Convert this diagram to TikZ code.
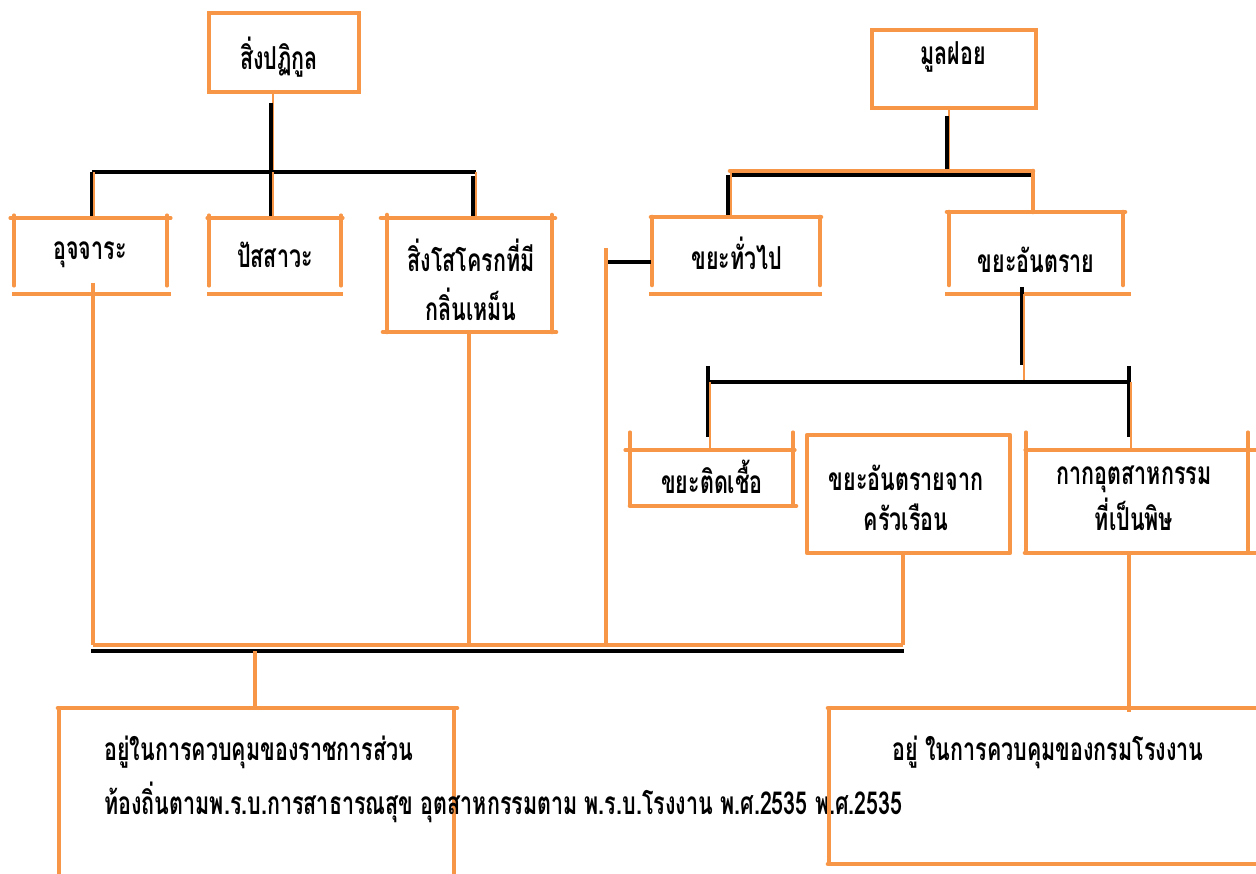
\documentclass[tikz,border=0pt]{standalone}
\usepackage{fontspec}
\newfontfamily\thaifont[Script=Thai,FakeStretch=0.68]{Loma}
\usetikzlibrary{positioning}
\definecolor{theme}{RGB}{247,150,70}
\tikzset{
  frame/.style={draw=theme, line width=1.8pt, line cap=round},
  heavy/.style={draw=theme, line width=2.6pt, line cap=round, line join=round},
  feed/.style={draw=theme, line width=1.4pt},
  link/.style={draw=black, line width=2pt},
  label/.style={font=\thaifont\bfseries\fontsize{18}{21}\selectfont, inner sep=0pt, align=center},
}

\begin{document}
\begin{tikzpicture}[x=0.02cm,y=-0.02cm]
    \useasboundingbox (0,0) rectangle (1256,874);
    % left tree
    \draw[frame] (209,13) rectangle (359,92);
    \node[label] (sewage) at (279,57) {สิ่งปฏิกูล};
    \coordinate (sewagehub) at (273,172);
    \draw[feed] (sewagehub |- 0,92) -- (sewagehub);
    \draw[link] (271,103) -- (271,172);
    \draw[link] (92,172) -- (476,172);
    \draw[link] (92,172) -- (92,218);
    \draw[feed] (94,172) -- (94,218);
    \draw[link] (271,172) -- (271,218);
    \draw[feed] (273,172) -- (273,218);
    \draw[link] (473,176) -- (473,218);
    \draw[feed] (476,172) -- (476,218);

    \draw[frame] (10,218) -- (171,218);
    \draw[frame] (14,215) -- (14,286);
    \draw[frame] (167,215) -- (167,286);
    \draw[feed, line width=1.8pt] (12,294) -- (171,294);
    \node[label] (feces) at (90,255) {อุจจาระ};

    \draw[frame] (207,218) -- (343,218);
    \draw[frame] (209,215) -- (209,286);
    \draw[frame] (341,215) -- (341,286);
    \draw[feed, line width=1.8pt] (207,294) -- (343,294);
    \node[label] (urine) at (275,255) {ปัสสาวะ};

    \draw[heavy] (381,218) -- (555,218);
    \draw[heavy] (387,215) -- (387,332);
    \draw[heavy] (552,215) -- (552,332);
    \draw[heavy] (383,332) -- (556,332);
    \node[label] (odorous) at (471,280) {สิ่งโสโครกที่มี\\[7pt]กลิ่นเหม็น};

    % right tree
    \draw[frame] (872,30) rectangle (1036,108);
    \node[label] (garbage) at (953,57) {มูลฝอย};
    \coordinate (garbagehub) at (949,172);
    \draw[feed] (garbagehub |- 0,108) -- (garbagehub);
    \draw[link] (947,116) -- (947,170);
    \draw[heavy] (730,171) -- (1033,171);
    \draw[link] (730,175) -- (1031,175);
    \draw[link] (728,175) -- (728,217);
    \draw[feed] (731,172) -- (731,217);
    \draw[heavy] (1033,171) -- (1033,212);

    \draw[heavy] (651,217) -- (821,217);
    \draw[heavy] (652,217) -- (652,285);
    \draw[heavy] (820,217) -- (820,285);
    \draw[feed, line width=1.8pt] (649,294) -- (822,294);
    \node[label] (general) at (737,253) {ขยะทั่วไป};

    \draw[heavy] (947,212) -- (1125,212);
    \draw[heavy] (949,212) -- (949,285);
    \draw[heavy] (1123,212) -- (1123,285);
    \draw[feed, line width=1.8pt] (945,294) -- (1131,294);
    \node[label] (hazard) at (1036,260) {ขยะอันตราย};

    \coordinate (generalfeed) at (606,262);
    \draw[link] (generalfeed) -- (651,262);
    \draw[feed, line width=2pt] (606,248) -- (606,647);

    \coordinate (hazardhub) at (1024,382);
    \draw[link] (1022,287) -- (1022,365);
    \draw[feed, line width=0.9pt] (1024,294) -- (hazardhub);
    \draw[link] (708,382) -- (1131,382);
    \draw[link, line width=2.4pt] (708,366) -- (708,437);
    \draw[link, line width=2.4pt] (1129,366) -- (1129,437);
    \draw[feed, line width=0.9pt] (710,382) -- (710,450);
    \draw[feed, line width=0.9pt] (1131,382) -- (1131,450);

    \draw[frame] (625,450) -- (795,450);
    \draw[frame] (630,432) -- (630,506);
    \draw[frame] (793,432) -- (793,506);
    \draw[heavy] (630,506) -- (796,506);
    \node[label] (infectious) at (712,477) {ขยะติดเชื้อ};

    \draw[heavy] (807,435) rectangle (1010,553);
    \node[label] (household) at (906,498) {ขยะอันตรายจาก\\[2pt]ครัวเรือน};

    \draw[frame] (1025,450) -- (1256,450);
    \draw[frame] (1026,432) -- (1026,553);
    \draw[frame] (1248,432) -- (1248,553);
    \draw[heavy] (1025,553) -- (1256,553);
    \node[label] (toxic) at (1134,498) {กากอุตสาหกรรม\\[2pt]ที่เป็นพิษ};

    % collecting lines
    \coordinate (localhub) at (255,651);
    \draw[feed, line width=2pt] (93,283) -- (93,645);
    \draw[feed, line width=2pt] (469,332) -- (469,645);
    \draw[feed, line width=2pt] (903,553) -- (903,645);
    \draw[feed, line width=2pt] (93,645) -- (903,645);
    \draw[link, line width=2.2pt] (91,651) -- (904,651);
    \draw[feed, line width=2pt] (localhub) -- (255,707);
    \draw[feed, line width=2pt] (1129,553) -- (1129,712);

    % bottom boxes
    \draw[heavy] (58,708) -- (457,708);
    \draw[feed, line width=2.2pt] (59,708) -- (59,874);
    \draw[feed, line width=2.2pt] (454,708) -- (454,874);
    \node[label, anchor=west] (localgov) at (104,752) {อยู่ในการควบคุมของราชการส่วน};
    \node[label, anchor=west] (localgovb) at (104,802) {ท้องถิ่นตามพ.ร.บ.การสาธารณสุข อุตสาหกรรมตาม พ.ร.บ.โรงงาน พ.ศ.2535 พ.ศ.2535};

    \draw[heavy] (828,708) -- (1256,708);
    \draw[feed, line width=2.2pt] (829,708) -- (829,864);
    \draw[heavy] (828,864) -- (1256,864);
    \node[label] (factorydept) at (1048,752) {อยู่ ในการควบคุมของกรมโรงงาน};
\end{tikzpicture}
\end{document}
